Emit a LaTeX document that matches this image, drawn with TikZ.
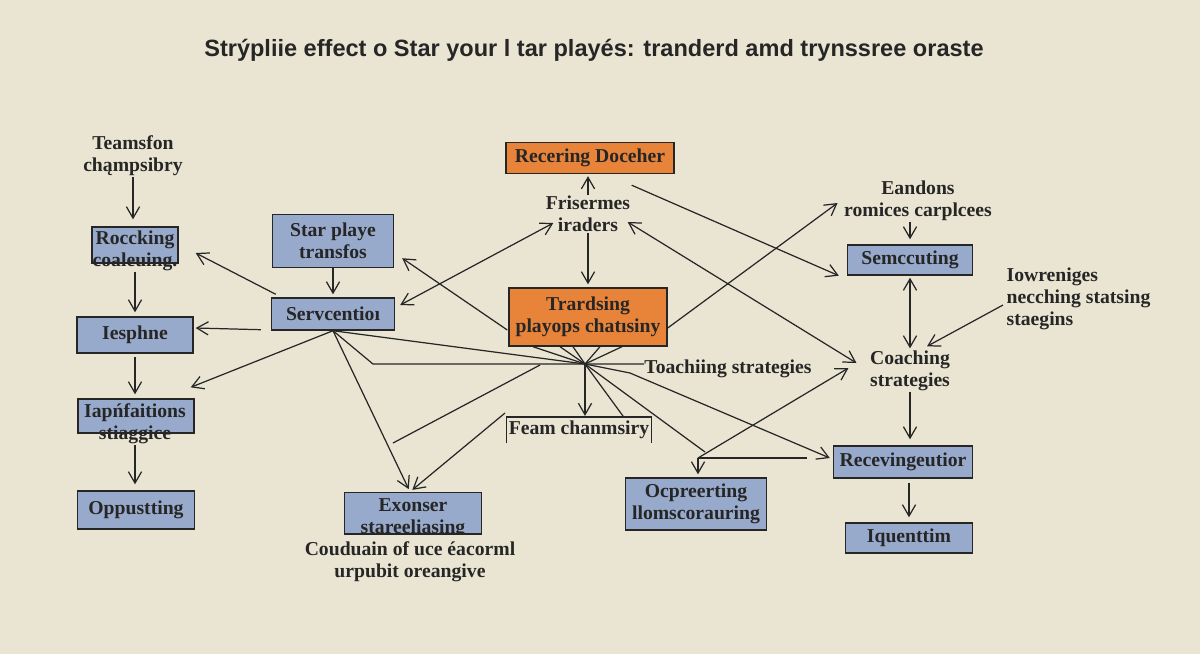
\documentclass[tikz,border=0pt]{standalone}
\usepackage{fontspec}
\setmainfont{Liberation Serif}
\newfontfamily\titlefont{Liberation Sans}
\usetikzlibrary{arrows.meta}

\definecolor{paper}{HTML}{EAE5D3}
\definecolor{boxblue}{HTML}{98AACB}
\definecolor{boxorange}{HTML}{E8843A}
\definecolor{ink}{HTML}{262626}

\tikzset{
  txt/.style={font=\bfseries\fontsize{11.2}{12.6}\selectfont, align=center, inner sep=0pt, text=ink},
  bluebox/.style={txt, draw=ink, fill=boxblue, line width=0.8pt},
  orangebox/.style={txt, draw=ink, fill=boxorange, line width=0.8pt},
  >={Straight Barb[length=6.5pt,width=7.5pt]}
}

\begin{document}
\begin{tikzpicture}[x=0.02cm,y=-0.02cm,line width=0.7pt,draw=ink]
%\draw [help lines] (0,0) grid (1200,654);
\fill [paper] (0,0) rectangle (1200,654);
\useasboundingbox (0,0) rectangle (1200,654);

\node [font=\titlefont\bfseries\fontsize{13.4}{16}\selectfont, text=ink] (title) at (594,50)
  {Strýpliie effect o Star your l tar playés: tranderd amd trynssree oraste};

% left column
\node [txt] (team) at (133,156) {Teamsfon\\chąmpsibry};
\node [bluebox, minimum width=1.72cm, minimum height=0.72cm] (rock) at (135,245) {};
\node [txt] (rocktxt) at (135,251) {Roccking\\coaleuing.};
\node [bluebox, minimum width=2.32cm, minimum height=0.72cm] (iesp) at (135,335) {Iesphne};
\node [bluebox, minimum width=2.32cm, minimum height=0.68cm] (iapf) at (136,416) {};
\node [txt] (iapftxt) at (135,424) {Iapńfaitions\\stiaggice};
\node [bluebox, minimum width=2.34cm, minimum height=0.76cm] (opp) at (136,510) {Oppustting};

\draw [->, shorten >=0.14cm] (team.south) -- (team.south |- rock.north);
\draw [->, shorten >=0.08cm] (rocktxt.south) -- (rocktxt.south |- iesp.north);
\draw [->, shorten <=0.06cm, shorten >=0.08cm] (iesp.south) -- (iesp.south |- iapf.north);
\draw [->, shorten >=0.12cm] (iapftxt.south) -- (iapftxt.south |- opp.north);

% middle
\node [bluebox, minimum width=2.42cm, minimum height=1.06cm] (star) at (333,241) {Star playe\\transfos};
\node [bluebox, minimum width=2.46cm, minimum height=0.64cm] (serv) at (333,314) {Servcentioı};
\node [orangebox, minimum width=3.36cm, minimum height=0.62cm] (rec) at (590,158) {Recering Doceher};
\node [txt] (fris) at (588,214) {Frisermes\\iraders};
\node [orangebox, minimum width=3.16cm, minimum height=1.16cm] (trad) at (588,317) {Trardsing\\playops chatısiny};
\node [txt, minimum width=2.88cm, minimum height=0.5cm] (feam) at (579,430) {Feam chanmsiry};
\node [txt] (toach) at (728,369) {Toachiing strategies};
\node [bluebox, minimum width=2.74cm, minimum height=0.82cm] (exon) at (413,513) {};
\begin{scope}
  \clip (exon.north west) rectangle (exon.south east);
  \node [txt] (exontxt) at (413,518) {Exonser\\stareeliasing};
\end{scope}
\draw [line width=0.8pt] (exon.south west) -- (exon.south east);
\node [txt] (coud) at (410,562) {Couduain of uce éacorml\\urpubit oreangive};
\node [bluebox, minimum width=2.82cm, minimum height=1.04cm] (ocp) at (696,504) {Ocpreerting\\llomscorauring};
\draw (feam.south west) -- (feam.north west) -- (feam.north east) -- (feam.south east);

\coordinate (hub) at (585,364);
\coordinate (bend) at (373,364);
\coordinate (knee) at (630,373);
\coordinate (ocpc) at (698,458);
\coordinate (cutA) at (540,365);
\coordinate (cutB) at (393,443);
\coordinate (exA) at (505,413);

\draw [->, shorten >=0.06cm] (star.south) -- (serv.north);
\draw [->] ([shift={(5,-3)}]serv.north west) -- ([shift={(17,8)}]rock.east);
\draw [->] ([shift={(-10,-1)}]serv.south west) -- ([shift={(2,-7)}]iesp.east);
\draw [->] (serv.south) -- ([shift={(-4,-11)}]iapf.north east);
\draw [->, shorten >=0.06cm] (serv.south) -- ([xshift=-0.06cm]exon.north);
\draw [<->] ([shift={(5,-9)}]serv.east) -- ([shift={(8,9)}]fris.west);
\draw [->] ([shift={(-1,13)}]trad.west) -- ([shift={(8,-10)}]star.south east);
\draw (serv.south) -- (hub);
\draw (serv.south) -- (bend) -- (hub) -- (hub -| toach.west);
\draw [->, shorten >=0.04cm] (fris.north) -- (fris.north |- rec.south);
\draw [->, shorten >=0.06cm] (fris.south) -- (fris.south |- trad.north);
\foreach \dx in {-55,-28,-15,12,34}
  \draw (hub) -- ([xshift=\dx*0.02cm]trad.south);
\draw [->, shorten >=0.02cm] (hub) -- (hub |- feam.north);
\draw (hub) -- ([xshift=-0.56cm]feam.north east);
\draw (hub) -- ([shift={(7,-6)}]ocpc);
\draw (cutA) -- (cutB);
\draw [->, shorten >=0.06cm] (exA) -- ([xshift=-0.06cm]exon.north);

% right side
\node [txt] (eand) at (918,201) {Eandons\\romices carplcees};
\node [bluebox, minimum width=2.5cm, minimum height=0.6cm] (sem) at (910,260) {Semccuting};
\node [txt, align=left, anchor=west] (iowr) at (1006,299) {Iowreniges\\necching statsing\\staegins};
\node [txt] (coach) at (910,371) {Coaching\\strategies};
\node [bluebox, minimum width=2.78cm, minimum height=0.64cm] (recv) at (903,462) {Recevingeutior};
\node [bluebox, minimum width=2.54cm, minimum height=0.6cm] (iq) at (909,538) {Iquenttim};

\draw [->] ([shift={(-43,11)}]rec.south east) -- ([xshift=-0.16cm]sem.south west);
\draw [->] ([yshift=-0.22cm]trad.east) -- ([shift={(-6,2)}]eand.west);
\draw [->, shorten >=0.1cm] (sem.north |- eand.south) -- (sem.north);
\draw [<->, shorten <=0.04cm, shorten >=0.04cm] (sem.south) -- (sem.south |- coach.north);
\draw [->] ([shift={(-3,6)}]iowr.west) -- ([shift={(17,-4)}]coach.north);
\draw [<->] ([shift={(-3,8)}]fris.east) -- ([shift={(-13,-8)}]coach.west);
\draw [->, shorten >=0.12cm] (coach.south) -- (coach.south |- recv.north);
\draw [->, shorten <=0.08cm, shorten >=0.1cm] (iq.north |- recv.south) -- (iq.north);
\draw [->] (ocpc) -- ([shift={(-21,-3)}]coach.west);
\draw [->, shorten >=0.06cm] (ocpc) -- (ocpc |- ocp.north);
\draw (ocpc) -- ++(109,0);
\draw [->] (hub) -- (knee) -- ([shift={(-3,-4)}]recv.west);
\end{tikzpicture}
\end{document}
